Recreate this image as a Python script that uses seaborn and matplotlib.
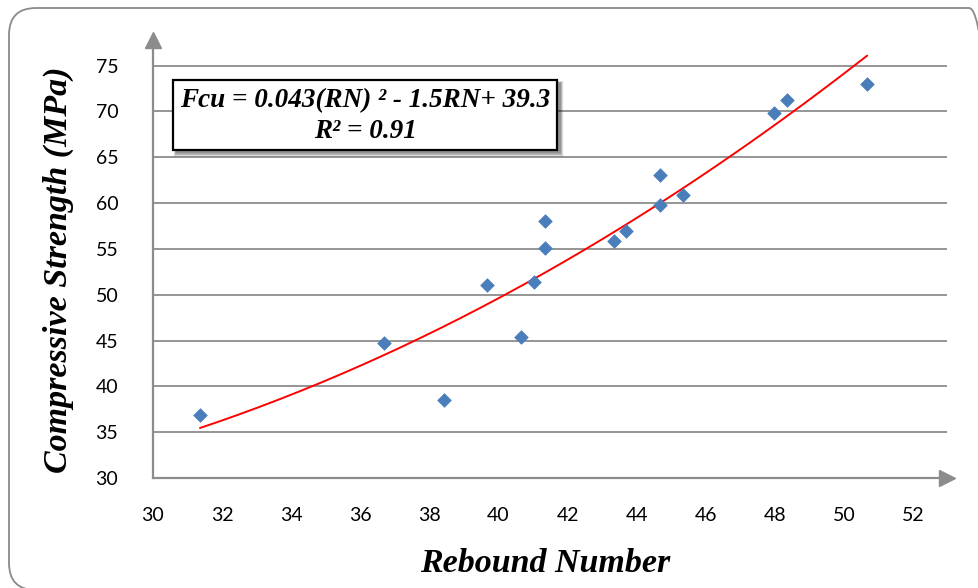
import numpy as np
import pandas as pd
import matplotlib
matplotlib.use("Agg")
import matplotlib.pyplot as plt
from matplotlib.patches import FancyBboxPatch, Rectangle
from matplotlib.transforms import IdentityTransform
import seaborn as sns

# Rebound hammer readings and matching cube strengths
rebound_number = [31.36, 36.69, 38.42, 39.67, 40.65, 41.03, 41.35, 41.35,
                  43.34, 43.69, 44.67, 44.67, 45.34, 47.97, 48.35, 50.67]
compressive_strength = [36.9, 44.7, 38.5, 51.1, 45.4, 51.4, 55.1, 58.1,
                        55.9, 57.0, 59.8, 63.1, 60.9, 69.85, 71.3, 73.0]

x_ticks = [30, 32, 34, 36, 38, 40, 42, 44, 46, 48, 50, 52]
y_ticks = [30, 35, 40, 45, 50, 55, 60, 65, 70, 75]

equation_text = "Fcu = 0.043(RN) \u00b2 - 1.5RN+ 39.3"
r2_text = "R\u00b2 = 0.91"
x_label = "Rebound Number"
y_label = "Compressive Strength (MPa)"

df = pd.DataFrame({"RN": rebound_number, "Fcu": compressive_strength})

# second-order polynomial trendline
coef = np.polyfit(df["RN"], df["Fcu"], 2)
rn_fit = np.linspace(min(rebound_number), max(rebound_number), 200)
trend = pd.DataFrame({"RN": rn_fit, "Fcu": np.polyval(coef, rn_fit)})

sns.set_style("white")
plt.rcParams["font.family"] = ["Lato", "DejaVu Sans"]
plt.rcParams["text.color"] = "black"

W, H = 979, 588
fig = plt.figure(figsize=(W / 100, H / 100), dpi=100)

# rounded outer frame, laid out in pixels; right side runs past the edge
frame = FancyBboxPatch((9, H - 590), 996 - 9, 590 - 8,
                       boxstyle="round,pad=0,rounding_size=27",
                       transform=IdentityTransform(), facecolor="none",
                       edgecolor="#8a8a8a", linewidth=1.3, zorder=0)
fig.patches.append(frame)

ax_l, ax_r = 153 / W, 947 / W
ax_b, ax_t = 1 - 478 / H, 1 - 40 / H
ax = fig.add_axes([ax_l, ax_b, ax_r - ax_l, ax_t - ax_b])
ax.set_facecolor("none")
ax.set_xlim(30, 52.98)
ax.set_ylim(30, 77.8)

grid_c = "#8c8c8c"
for yv in y_ticks[1:]:
    ax.axhline(yv, color=grid_c, lw=1.3, zorder=1)

sns.lineplot(data=trend, x="RN", y="Fcu", ax=ax, color="#ff0000",
             lw=1.4, zorder=3, legend=False)
sns.scatterplot(data=df, x="RN", y="Fcu", ax=ax, marker="D", s=48,
                color="#4a7ebb", edgecolor="#4a7ebb", linewidth=0.5, zorder=4)

for side in ["top", "right"]:
    ax.spines[side].set_visible(False)
for side in ["left", "bottom"]:
    ax.spines[side].set_color(grid_c)
    ax.spines[side].set_linewidth(1.6)
    ax.spines[side].set_zorder(2)

# arrowheads at the axis ends
ax.plot([0], [1.0], marker="^", ms=11, color=grid_c, transform=ax.transAxes,
        clip_on=False, zorder=5)
ax.plot([1.0], [0], marker=">", ms=11, color=grid_c, transform=ax.transAxes,
        clip_on=False, zorder=5)

ax.set_xticks(x_ticks)
ax.set_yticks(y_ticks)
ax.set_xticklabels([str(v) for v in x_ticks])
ax.set_yticklabels([str(v) for v in y_ticks])
ax.tick_params(axis="x", direction="in", length=6, width=1.3, color=grid_c,
               pad=21, labelsize=14, labelcolor="black")
ax.tick_params(axis="y", length=0, pad=25, labelsize=14, labelcolor="black")

serif = ["Liberation Serif", "DejaVu Serif"]
ax.set_xlabel("")
ax.set_ylabel("")
fig.text(545 / W, 1 - 563 / H, x_label, family=serif, weight="bold",
         style="italic", fontsize=24.5, ha="center", va="center", color="black")
fig.text(58 / W, 1 - 270 / H, y_label, family=serif, weight="bold",
         style="italic", fontsize=24.5, ha="center", va="center", rotation=90,
         color="black")

# equation box with soft shadow
bx0, by0, bx1, by1 = 173, 80, 557, 150
for k, a in zip(range(8, 0, -1), np.linspace(0.04, 0.22, 8)):
    off = 3
    fig.patches.append(Rectangle(((bx0 + off - k * 0.3) / W, 1 - (by1 + off + k * 0.5) / H),
                                 (bx1 - bx0 + k * 0.8) / W, (by1 - by0 + k * 0.8) / H,
                                 transform=fig.transFigure, facecolor="black",
                                 edgecolor="none", alpha=a * 0.5, zorder=6))
fig.patches.append(Rectangle((bx0 / W, 1 - by1 / H), (bx1 - bx0) / W, (by1 - by0) / H,
                             transform=fig.transFigure, facecolor="white",
                             edgecolor="black", linewidth=1.6, zorder=7))
cx = (bx0 + bx1) / 2 / W
fig.text(cx, 1 - 101 / H, equation_text, family=serif, weight="bold",
         style="italic", fontsize=19.5, ha="center", va="center", zorder=8,
         color="black")
fig.text(cx, 1 - 131 / H, r2_text, family=serif, weight="bold",
         style="italic", fontsize=19.5, ha="center", va="center", zorder=8,
         color="black")

fig.savefig("out.png", dpi=100)
